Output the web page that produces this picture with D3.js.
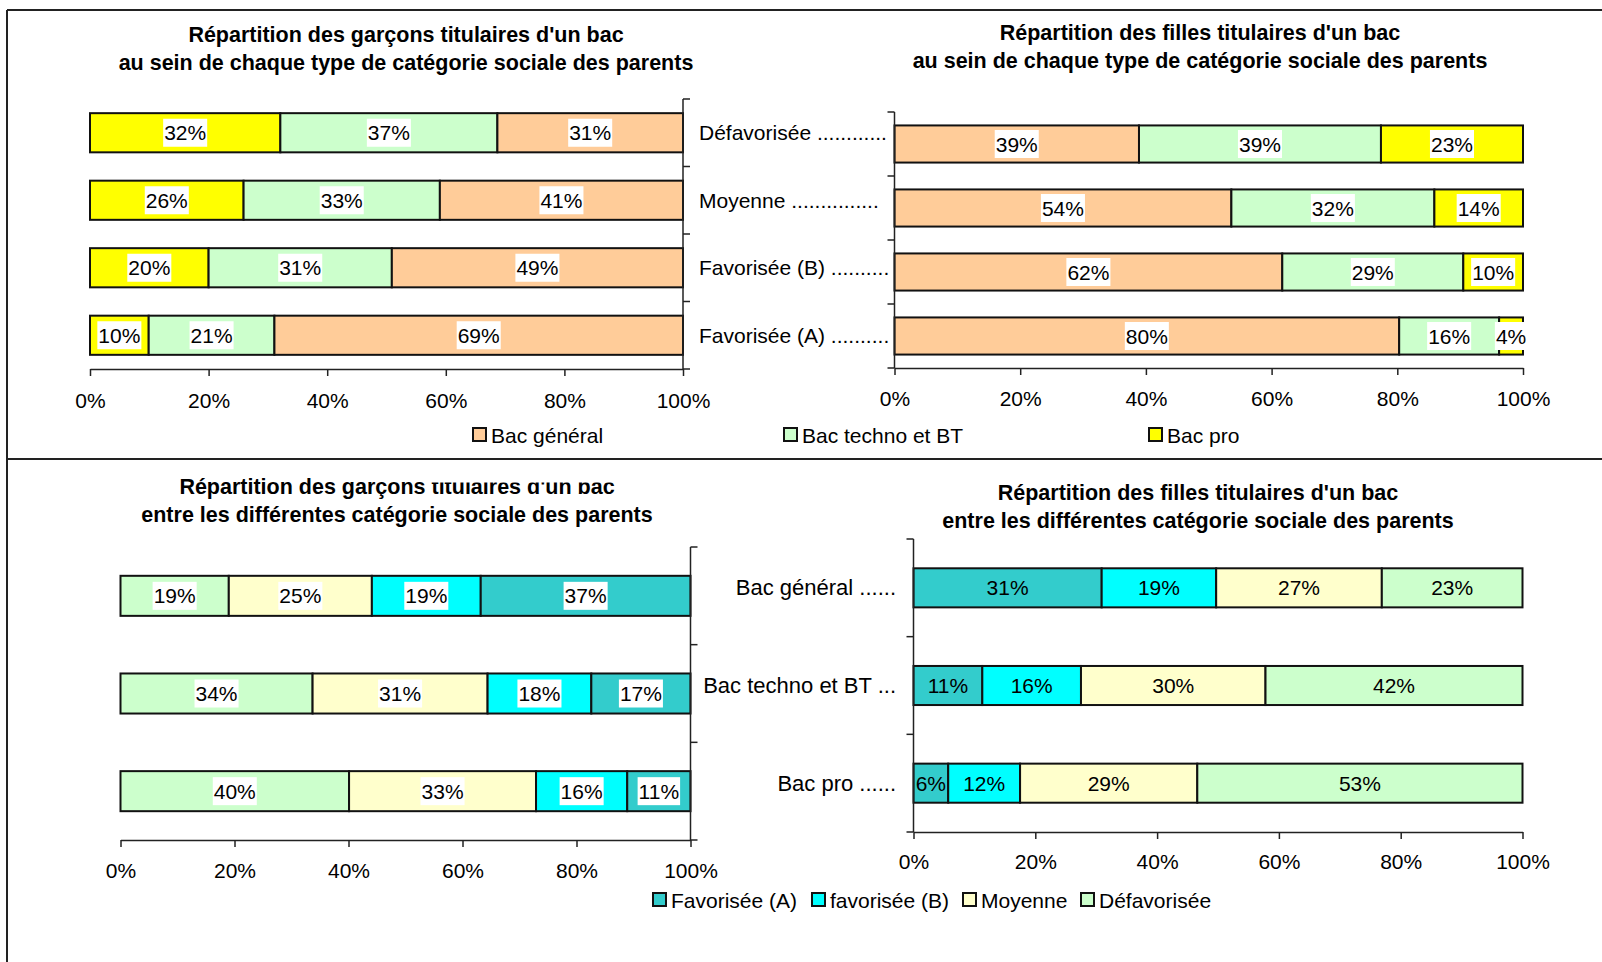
<!DOCTYPE html>
<html>
<head>
<meta charset="utf-8">
<script src="https://cdn.jsdelivr.net/npm/d3@7"></script>
<style>
  body { margin: 0; background: #fff; }
  text { font-family: 'Liberation Sans', Arial, sans-serif; fill: #000; }
</style>
</head>
<body>
<svg width="1602" height="962"></svg>
<script>
// categories and tick labels
const socialCats = ['Défavorisée', 'Moyenne', 'Favorisée (B)', 'Favorisée (A)'];
const socialLabels = ['Défavorisée ............', 'Moyenne ...............', 'Favorisée (B) ..........', 'Favorisée (A) ..........'];
const bacCats = ['Bac général', 'Bac techno et BT', 'Bac pro'];
const bacLabels = ['Bac général ......', 'Bac techno et BT ...', 'Bac pro ......'];
const xTicks = [0, 20, 40, 60, 80, 100];

// top left: boys, bac type within each social category (%)
const boysPro = [32.1, 25.9, 20.0, 9.9];
const boysTechno = [36.6, 33.1, 30.9, 21.2];
const boysGeneral = [31.3, 41.0, 49.1, 68.9];

// top right: girls, bac type within each social category (%)
const girlsGeneral = [38.9, 53.6, 61.7, 80.3];
const girlsTechno = [38.5, 32.3, 28.8, 15.9];
const girlsPro = [22.6, 14.1, 9.5, 3.8];

// bottom left: boys, social category within each bac (%)
const boysDef = [19.0, 33.7, 40.1];
const boysMoy = [25.1, 30.7, 32.8];
const boysFavB = [19.1, 18.2, 16.0];
const boysFavA = [36.8, 17.4, 11.1];

// bottom right: girls, social category within each bac (%)
const girlsFavA = [30.9, 11.3, 5.7];
const girlsFavB = [18.8, 16.2, 11.8];
const girlsMoy = [27.2, 30.3, 29.1];
const girlsDef = [23.1, 42.2, 53.4];

const colors = {
  general: '#FFCC99',
  techno: '#CCFFCC',
  pro: '#FFFF00',
  favA: '#33CCCC',
  favB: '#00FFFF',
  moy: '#FFFFCC',
  def: '#CCFFCC',
};

const svg = d3.select('svg');
svg.append('rect').attr('width', 1602).attr('height', 962).attr('fill', '#fff');

// frame lines
const frame = [
  [7, 10, 1602, 10],
  [7, 459, 1602, 459],
  [7, 10, 7, 962],
];
svg.selectAll('line.frame').data(frame).enter().append('line')
  .attr('class', 'frame')
  .attr('x1', (d) => d[0]).attr('y1', (d) => d[1])
  .attr('x2', (d) => d[2]).attr('y2', (d) => d[3])
  .attr('stroke', '#222').attr('stroke-width', 2);

function title(cx, y1, lines) {
  svg.append('g').selectAll('text').data(lines).enter().append('text')
    .attr('x', cx)
    .attr('y', (d, i) => y1 + 7 + i * 28)
    .attr('text-anchor', 'middle')
    .attr('font-size', 21.5)
    .attr('font-weight', 'bold')
    .text((d) => d);
}

function drawChart(cfg) {
  const g = svg.append('g');
  const x = d3.scaleLinear().domain([0, 100]).range(cfg.xRange);
  const y = d3.scaleBand()
    .domain(cfg.cats)
    .range(cfg.yRange)
    .paddingInner(cfg.pad)
    .paddingOuter(cfg.pad / 2);

  // rows -> stack, first key starts at 0%
  const rows = cfg.cats.map((c, i) => {
    const r = { cat: c };
    cfg.keys.forEach((k, j) => (r[k] = cfg.series[j][i]));
    return r;
  });
  const stacked = d3.stack().keys(cfg.keys)(rows);

  const layers = g.selectAll('g.layer').data(stacked).enter().append('g')
    .attr('fill', (d) => colors[d.key]);

  layers.selectAll('rect').data((d) => d).enter().append('rect')
    .attr('x', (d) => x(d[0]))
    .attr('y', (d) => y(d.data.cat))
    .attr('width', (d) => x(d[1]) - x(d[0]))
    .attr('height', y.bandwidth())
    .attr('stroke', '#111')
    .attr('stroke-width', 2);

  // value labels
  const labels = g.append('g');
  stacked.forEach((layer) => {
    layer.forEach((d) => {
      const cx = (x(d[0]) + x(d[1])) / 2;
      const cy = y(d.data.cat) + y.bandwidth() / 2;
      const lg = labels.append('g');
      const box = lg.append('rect').attr('fill', '#fff');
      const t = lg.append('text')
        .attr('x', cx)
        .attr('y', cy + 7.5)
        .attr('text-anchor', 'middle')
        .attr('font-size', 21)
        .text(Math.round(d[1] - d[0]) + '%');
      if (cfg.boxes) {
        const w = t.node().getComputedTextLength() + 2;
        box.attr('x', cx - w / 2).attr('y', cy - 14).attr('width', w).attr('height', 28);
      } else {
        box.remove();
      }
    });
  });

  // category axis, ticks on band boundaries
  const ax = cfg.axisRight ? cfg.xRange[1] : cfg.xRange[0];
  const dir = cfg.axisRight ? 7 : -7;
  const bounds = d3.range(cfg.cats.length + 1).map((i) => cfg.yRange[0] + i * y.step());
  g.append('line')
    .attr('x1', ax).attr('x2', ax)
    .attr('y1', cfg.yRange[0]).attr('y2', cfg.yRange[1])
    .attr('stroke', '#222').attr('stroke-width', 1.5);
  g.selectAll('line.ytick').data(bounds).enter().append('line')
    .attr('class', 'ytick')
    .attr('x1', ax).attr('x2', ax + dir)
    .attr('y1', (d) => d).attr('y2', (d) => d)
    .attr('stroke', '#222').attr('stroke-width', 1.5);

  // category labels
  g.selectAll('text.cat').data(cfg.catLabels || []).enter().append('text')
    .attr('class', 'cat')
    .attr('x', cfg.labelX)
    .attr('y', (d, i) => y(cfg.cats[i]) + y.bandwidth() / 2 + 7.5)
    .attr('text-anchor', cfg.labelAnchor)
    .attr('font-size', cfg.labelSize || 21)
    .text((d) => d);

  // percentage axis
  const xAxis = d3.axisBottom(x)
    .tickValues(xTicks)
    .tickFormat((d) => d + '%')
    .tickSizeInner(7)
    .tickSizeOuter(0)
    .tickPadding(cfg.tickPad);
  const xg = g.append('g')
    .attr('transform', `translate(0,${cfg.yRange[1]})`)
    .call(xAxis);
  xg.select('.domain').attr('stroke', '#222').attr('stroke-width', 1.5);
  xg.selectAll('.tick line').attr('stroke', '#222').attr('stroke-width', 1.5);
  xg.selectAll('.tick text')
    .attr('font-size', 21)
    .attr('font-family', "'Liberation Sans', Arial, sans-serif")
    .attr('fill', '#000');
}

function legend(items, cy) {
  const lg = svg.append('g').selectAll('g').data(items).enter().append('g')
    .attr('transform', (d) => `translate(${d.x},${cy})`);
  lg.append('rect')
    .attr('x', 0).attr('y', -7).attr('width', 13).attr('height', 13)
    .attr('fill', (d) => colors[d.key])
    .attr('stroke', '#111').attr('stroke-width', 2);
  lg.append('text')
    .attr('x', 18).attr('y', 7.5)
    .attr('font-size', 21)
    .text((d) => d.name);
}

// top left
title(406, 35, ["Répartition des garçons titulaires d'un bac", 'au sein de chaque type de catégorie sociale des parents']);
drawChart({
  cats: socialCats,
  keys: ['pro', 'techno', 'general'],
  series: [boysPro, boysTechno, boysGeneral],
  xRange: [90, 683],
  yRange: [99, 369],
  pad: 0.42,
  axisRight: true,
  boxes: true,
  catLabels: socialLabels,
  labelX: 699,
  labelAnchor: 'start',
  tickPad: 17,
});

// top right
title(1200, 33, ["Répartition des filles titulaires d'un bac", 'au sein de chaque type de catégorie sociale des parents']);
drawChart({
  cats: socialCats,
  keys: ['general', 'techno', 'pro'],
  series: [girlsGeneral, girlsTechno, girlsPro],
  xRange: [894.5, 1523],
  yRange: [112, 368],
  pad: 0.42,
  axisRight: false,
  boxes: true,
  tickPad: 16,
});

legend([
  { key: 'general', name: 'Bac général', x: 473 },
  { key: 'techno', name: 'Bac techno et BT', x: 784 },
  { key: 'pro', name: 'Bac pro', x: 1149 },
], 435);

// bottom left
title(397, 487, ["Répartition des garçons titulaires d'un bac", 'entre les différentes catégorie sociale des parents']);
drawChart({
  cats: bacCats,
  keys: ['def', 'moy', 'favB', 'favA'],
  series: [boysDef, boysMoy, boysFavB, boysFavA],
  xRange: [120.5, 690.5],
  yRange: [547, 840],
  pad: 0.59,
  axisRight: true,
  boxes: true,
  tickPad: 16,
});
// the source clips the top of this title line
svg.append('rect').attr('x', 428).attr('y', 462).attr('width', 195).attr('height', 20.5).attr('fill', '#fff');

// bottom right
title(1198, 493, ["Répartition des filles titulaires d'un bac", 'entre les différentes catégorie sociale des parents']);
drawChart({
  cats: bacCats,
  keys: ['favA', 'favB', 'moy', 'def'],
  series: [girlsFavA, girlsFavB, girlsMoy, girlsDef],
  xRange: [913.5, 1522.5],
  yRange: [539, 832],
  pad: 0.6,
  axisRight: false,
  boxes: false,
  catLabels: bacLabels,
  labelX: 896,
  labelAnchor: 'end',
  labelSize: 22,
  tickPad: 15,
});

legend([
  { key: 'favA', name: 'Favorisée (A)', x: 653 },
  { key: 'favB', name: 'favorisée (B)', x: 812 },
  { key: 'moy', name: 'Moyenne', x: 963 },
  { key: 'def', name: 'Défavorisée', x: 1081 },
], 900);
</script>
</body>
</html>
